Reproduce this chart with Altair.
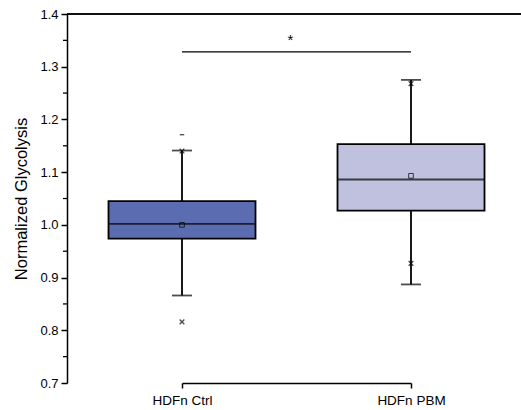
import altair as alt
import pandas as pd

groups = ["HDFn Ctrl", "HDFn PBM"]
q1 = [0.974, 1.027]
median = [1.002, 1.086]
q3 = [1.045, 1.153]
whisk_low = [0.866, 0.887]
whisk_high = [1.141, 1.275]
means = [1.000, 1.093]
pct_low = [0.816, 0.927]
pct_high = [1.140, 1.268]
extreme_group = ["HDFn Ctrl"]
extreme_value = [1.171]
colors = ["#5C6CB1", "#BFC1DE"]
y_ticks = [0.7, 0.8, 0.9, 1.0, 1.1, 1.2, 1.3, 1.4]
minor_ticks = [0.75, 0.85, 0.95, 1.05, 1.15, 1.25, 1.35]
sig_y = 1.328
sig_text_y = 1.356
sig_label = "*"

FONT = "Liberation Sans"
W, H = 454, 369

df = pd.DataFrame({
    "group": groups, "q1": q1, "median": median, "q3": q3,
    "lo": whisk_low, "hi": whisk_high, "mean": means,
    "plo": pct_low, "phi": pct_high, "color": colors,
})
ext = pd.DataFrame({"group": extreme_group, "value": extreme_value})
sig = pd.DataFrame({"g1": [groups[0]], "g2": [groups[1]], "y": [sig_y],
                    "ty": [sig_text_y], "label": [sig_label]})
minor = pd.DataFrame({"v": minor_ticks})

xscale = alt.Scale(type="point", domain=groups, range=[115, 344], padding=0)
yscale = alt.Scale(domain=[0.7, 1.4], nice=False, zero=False)

X = alt.X("group:N", scale=xscale, sort=groups,
          axis=alt.Axis(title=None, labelAngle=0, tickSize=5, labelPadding=5,
                        labelFontSize=13.5, labelFont=FONT, labelColor="black",
                        domainColor="black", tickColor="black", domainWidth=1.5,
                        tickWidth=1.5))
Yax = alt.Axis(title="Normalized Glycolysis", values=y_ticks, format=".1f",
               tickSize=6, grid=False, labelFontSize=13, labelFont=FONT,
               labelColor="black", titleFont=FONT, titleFontSize=16.5,
               titleFontWeight="normal", titleColor="black", titlePadding=10,
               domainColor="black", tickColor="black", domainWidth=1.5,
               tickWidth=1.5, labelPadding=3)

base = alt.Chart(df)

whisk_up = base.mark_rule(color="black", strokeWidth=1.8).encode(
    x=X, y=alt.Y("q3:Q", scale=yscale, axis=Yax), y2="hi:Q")
whisk_dn = base.mark_rule(color="black", strokeWidth=1.8).encode(
    x=X, y=alt.Y("lo:Q", scale=yscale), y2="q1:Q")
caps_hi = base.mark_tick(color="black", size=20, thickness=1.8).encode(
    x=X, y=alt.Y("hi:Q", scale=yscale))
caps_lo = base.mark_tick(color="black", size=20, thickness=1.8).encode(
    x=X, y=alt.Y("lo:Q", scale=yscale))
boxes = base.mark_bar(size=147, stroke="black", strokeWidth=1.8).encode(
    x=X, y=alt.Y("q1:Q", scale=yscale), y2="q3:Q",
    fill=alt.Fill("color:N", scale=None))
med = base.mark_tick(color="black", size=147, thickness=1.8).encode(
    x=X, y=alt.Y("median:Q", scale=yscale))
mean_pt = base.mark_point(shape="square", size=22, color="black",
                          filled=False, strokeWidth=1).encode(
    x=X, y=alt.Y("mean:Q", scale=yscale))
xshape = "M-1,-1L1,1M-1,1L1,-1"
p_hi = base.mark_point(shape=xshape, size=22, color="black", filled=False,
                       strokeWidth=1.3).encode(x=X, y=alt.Y("phi:Q", scale=yscale))
p_lo = base.mark_point(shape=xshape, size=22, color="black", filled=False,
                       strokeWidth=1.3).encode(x=X, y=alt.Y("plo:Q", scale=yscale))
ext_pt = alt.Chart(ext).mark_point(shape="M-1,0L1,0", size=20, color="black",
                                   filled=False, strokeWidth=1.3).encode(
    x=alt.X("group:N", scale=xscale, sort=groups),
    y=alt.Y("value:Q", scale=yscale))
sig_line = alt.Chart(sig).mark_rule(color="black", strokeWidth=1.3).encode(
    x=alt.X("g1:N", scale=xscale, sort=groups), x2="g2:N",
    y=alt.Y("y:Q", scale=yscale))
sig_txt = alt.Chart(sig).mark_text(font=FONT, fontSize=15, color="black",
                                   dx=-6, dy=3, baseline="middle").encode(
    x=alt.value((115 + 344) / 2), y=alt.Y("ty:Q", scale=yscale), text="label:N")
top_line = alt.Chart(df).mark_rule(color="black", strokeWidth=1.5).encode(
    x=alt.value(0), x2=alt.value(W), y=alt.value(0))
minor_rules = alt.Chart(minor).mark_rule(color="black", strokeWidth=1.3,
                                         clip=False).encode(
    x=alt.value(-4), x2=alt.value(0), y=alt.Y("v:Q", scale=yscale))

chart = alt.layer(
    whisk_up, whisk_dn, caps_hi, caps_lo, boxes, med, mean_pt, p_hi, p_lo,
    ext_pt, sig_line, sig_txt, top_line, minor_rules
).properties(
    width=W, height=H,
    autosize=alt.AutoSizeParams(type="none"),
    padding={"left": 67, "top": 14, "right": 0, "bottom": 27},
    background="white",
).configure_view(stroke=None)

chart.save("out.html", embed_options={"renderer": "svg", "actions": False})
